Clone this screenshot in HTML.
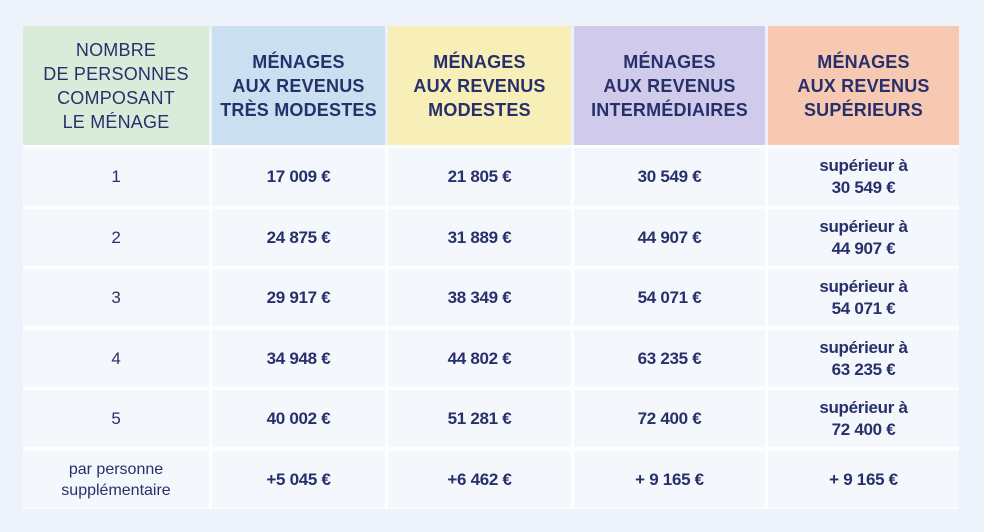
<!DOCTYPE html><html><head><meta charset="utf-8"><style>
body{margin:0;width:984px;height:532px;background:#eef3fb;font-family:"Liberation Sans",sans-serif;color:#27306b;position:relative;overflow:hidden}
.bg{position:absolute;left:23px;top:145px;width:936px;height:364px;background:#fdfeff}
.c{position:absolute;display:flex;align-items:center;justify-content:center;text-align:center;box-sizing:border-box}
.h{font-size:18px;line-height:24px;font-weight:bold;letter-spacing:0.2px}
.h0{font-weight:normal}
.b{background:#f4f7fc;font-weight:bold;font-size:17px;line-height:22px;letter-spacing:-0.3px}
.n{font-weight:normal;font-size:17px}
.s{font-weight:normal;font-size:16px;line-height:21px;letter-spacing:0}
</style></head><body>
<div class="bg"></div>
<div class="c h h0" style="left:23px;top:26px;width:186px;height:119px;background:#daecd9">NOMBRE<br>DE PERSONNES<br>COMPOSANT<br>LE MÉNAGE</div>
<div class="c h" style="left:212px;top:26px;width:173px;height:119px;background:#cae0f0">MÉNAGES<br>AUX REVENUS<br>TRÈS MODESTES</div>
<div class="c h" style="left:388px;top:26px;width:183px;height:119px;background:#f8eeb8">MÉNAGES<br>AUX REVENUS<br>MODESTES</div>
<div class="c h" style="left:574px;top:26px;width:191px;height:119px;background:#d0cbea">MÉNAGES<br>AUX REVENUS<br>INTERMÉDIAIRES</div>
<div class="c h" style="left:768px;top:26px;width:191px;height:119px;background:#f8c9b2">MÉNAGES<br>AUX REVENUS<br>SUPÉRIEURS</div>
<script>
var rows=[["1","17 009 €","21 805 €","30 549 €","supérieur à<br>30 549 €"],["2","24 875 €","31 889 €","44 907 €","supérieur à<br>44 907 €"],["3","29 917 €","38 349 €","54 071 €","supérieur à<br>54 071 €"],["4","34 948 €","44 802 €","63 235 €","supérieur à<br>63 235 €"],["5","40 002 €","51 281 €","72 400 €","supérieur à<br>72 400 €"],["par personne<br>supplémentaire","+5 045 €","+6 462 €","+ 9 165 €","+ 9 165 €"]];
var cols=[[23,186],[212,173],[388,183],[574,191],[768,191]];
var tops=[148,209,269,330,390,451],h=[58,57,57,57,57,57];
var out="";
rows.forEach(function(r,i){r.forEach(function(t,j){var cl="c b"+(j==0?(i==5?" s":" n"):"");out+='<div class="'+cl+'" style="left:'+cols[j][0]+'px;top:'+tops[i]+'px;width:'+cols[j][1]+'px;height:'+h[i]+'px">'+t+'</div>';});});
document.write(out);
</script>
</body></html>
